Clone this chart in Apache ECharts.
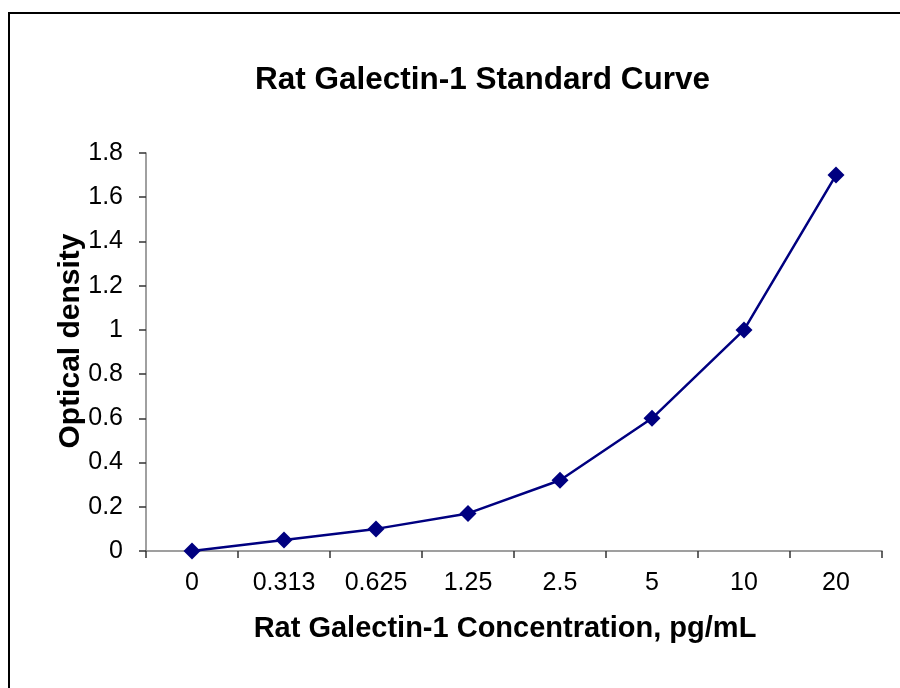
<!DOCTYPE html>
<html>
<head>
<meta charset="utf-8">
<script src="https://cdn.jsdelivr.net/npm/echarts@6/dist/echarts.min.js"></script>
<style>
html,body{margin:0;padding:0;background:#fff;}
#chart{width:900px;height:688px;}
</style>
</head>
<body>
<div id="chart"></div>
<script>
var categories = ['0', '0.313', '0.625', '1.25', '2.5', '5', '10', '20'];
var opticalDensity = [0, 0.05, 0.1, 0.17, 0.32, 0.6, 1.0, 1.7];
var yTicks = { min: 0, max: 1.8, interval: 0.2 };
var titleText = 'Rat Galectin-1 Standard Curve';
var xName = 'Rat Galectin-1 Concentration, pg/mL';
var yName = 'Optical density';

var font = 'Arial, "Liberation Sans", sans-serif';
var chart = echarts.init(document.getElementById('chart'), null, { renderer: 'canvas' });
chart.setOption({
  backgroundColor: '#ffffff',
  animation: false,
  graphic: [{
    type: 'rect',
    shape: { x: 9, y: 13, width: 1000, height: 1000 },
    style: { fill: 'none', stroke: '#000', lineWidth: 2 },
    silent: true
  }],
  title: {
    text: titleText,
    left: 250,
    top: 59,
    textStyle: { fontFamily: font, fontSize: 31.5, fontWeight: 'bold', color: '#000' }
  },
  grid: { left: 146, right: 18, top: 153, bottom: 137, containLabel: false },
  xAxis: {
    type: 'category',
    data: categories,
    boundaryGap: true,
    name: xName,
    nameLocation: 'middle',
    nameGap: 63,
    nameMoveOverlap: false,
    nameTextStyle: { fontFamily: font, fontSize: 29, fontWeight: 'bold', color: '#000', padding: [0, 18, 0, 0] },
    axisLine: { lineStyle: { color: '#808080', width: 1.5 } },
    axisTick: { show: true, length: 7, lineStyle: { color: '#333', width: 1.5 } },
    axisLabel: { fontFamily: font, fontSize: 25, color: '#000', margin: 20 },
    splitLine: { show: false }
  },
  yAxis: {
    type: 'value',
    min: yTicks.min,
    max: yTicks.max,
    interval: yTicks.interval,
    name: yName,
    nameLocation: 'middle',
    nameGap: 60,
    nameMoveOverlap: false,
    nameTextStyle: { fontFamily: font, fontSize: 30, fontWeight: 'bold', color: '#000', padding: [0, 0, 0, 22] },
    axisLine: { show: true, lineStyle: { color: '#808080', width: 1.5 } },
    axisTick: { show: true, length: 7, lineStyle: { color: '#333', width: 1.5 } },
    axisLabel: { fontFamily: font, fontSize: 25, color: '#000', margin: 23 },
    splitLine: { show: false }
  },
  series: [{
    type: 'line',
    data: opticalDensity,
    symbol: 'diamond',
    symbolSize: 17,
    itemStyle: { color: '#000080' },
    lineStyle: { color: '#000080', width: 2.5 }
  }]
});
</script>
</body>
</html>
